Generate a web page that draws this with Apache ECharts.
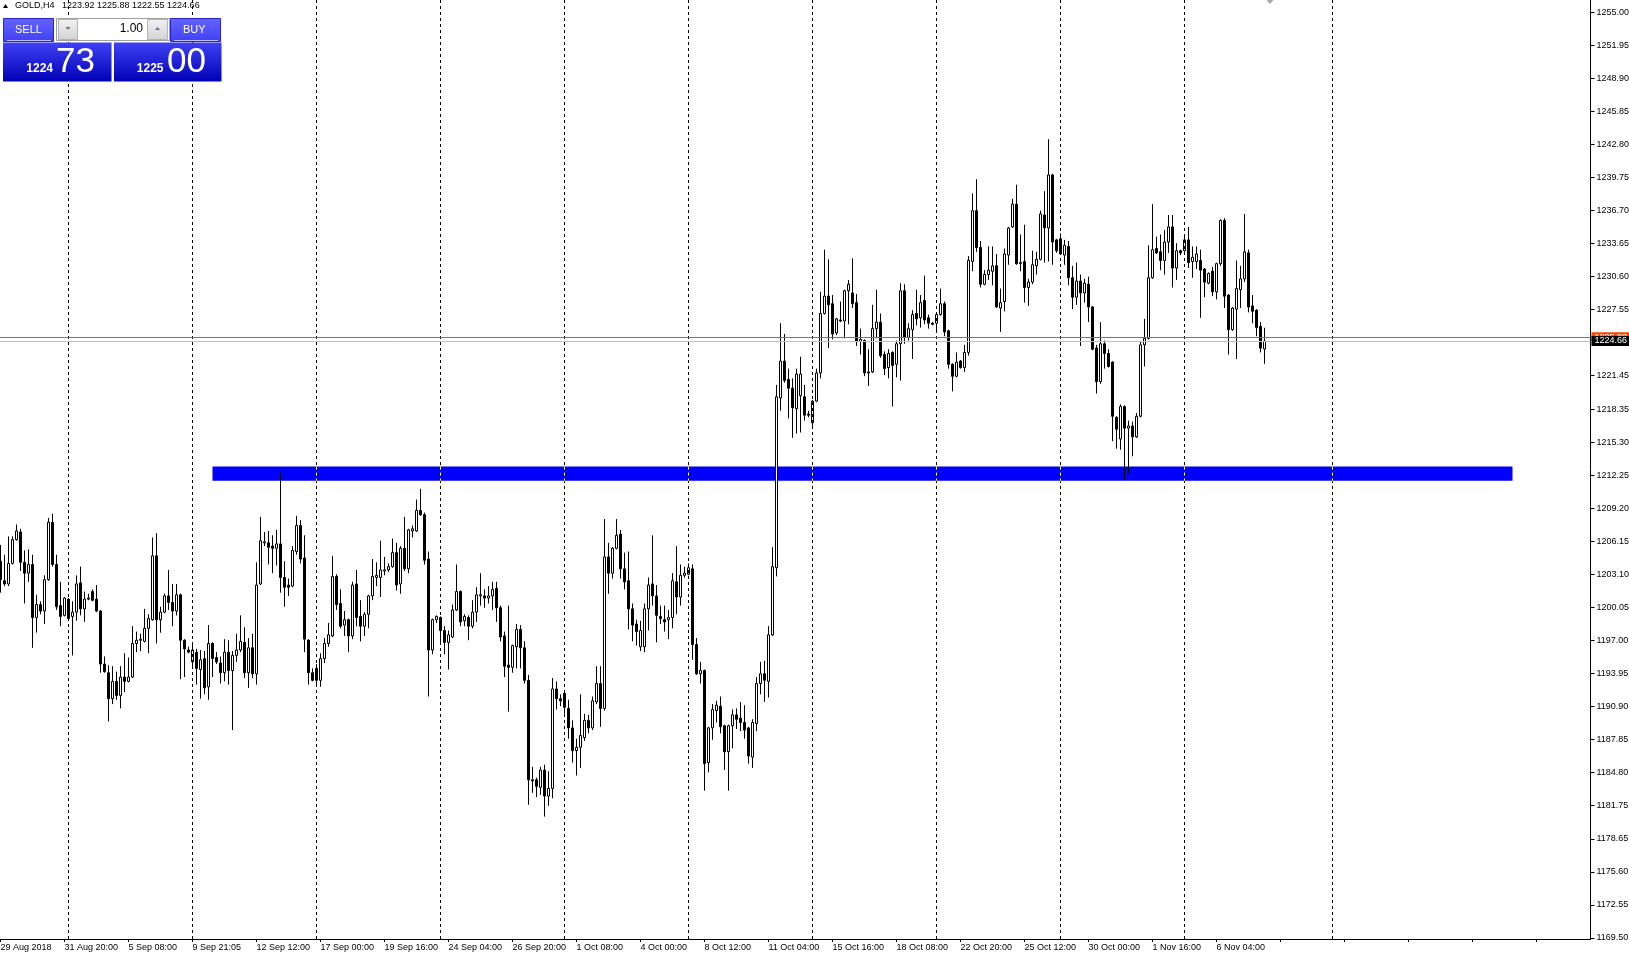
<!doctype html>
<html><head><meta charset="utf-8">
<style>
  html,body{margin:0;padding:0;background:#ffffff;overflow:hidden}
  #chart{width:1629px;height:958px}
</style>
<script src="https://cdn.jsdelivr.net/npm/echarts@6/dist/echarts.min.js"></script>
</head><body><div id="chart"></div>
<script>
// GOLD H4 bars, each [open, close, low, high]
const symbol = 'GOLD,H4';
const candles = [
  [1204.3,1202.6,1201.4,1205.8],[1202.5,1202.2,1202.0,1204.9],[1202.2,1204.1,1202.0,1206.6],[1204.1,1206.3,1204.0,1206.6],[1206.3,1207.1,1206.2,1207.7],
  [1207.0,1204.2,1203.4,1207.3],[1204.2,1203.2,1200.4,1205.3],[1203.2,1204.0,1202.4,1205.4],[1204.0,1199.1,1196.3,1204.9],[1199.1,1200.3,1197.7,1201.2],
  [1200.3,1199.7,1199.4,1200.6],[1199.7,1202.6,1198.5,1203.0],[1202.6,1207.9,1202.5,1208.3],[1207.9,1204.0,1203.8,1208.7],[1204.0,1200.1,1199.8,1204.9],
  [1200.2,1199.2,1198.3,1202.4],[1199.3,1200.9,1199.2,1201.0],[1200.8,1199.0,1198.9,1200.9],[1199.2,1199.6,1195.6,1200.6],[1199.6,1202.2,1198.8,1203.0],
  [1202.3,1199.9,1199.3,1203.8],[1199.9,1200.8,1198.7,1201.5],[1200.8,1200.9,1200.7,1201.3],[1201.5,1200.7,1200.6,1201.7],[1200.8,1199.7,1199.6,1202.1],
  [1199.7,1194.8,1194.0,1199.8],[1194.8,1194.1,1194.0,1195.5],[1194.0,1191.6,1189.5,1194.7],[1191.6,1193.2,1191.1,1194.6],[1193.2,1191.9,1191.5,1194.1],
  [1191.9,1193.6,1190.7,1194.6],[1193.6,1193.2,1192.2,1195.8],[1193.2,1193.6,1193.1,1195.4],[1193.6,1196.7,1193.5,1198.3],[1196.7,1197.0,1195.9,1197.8],
  [1197.0,1197.1,1196.0,1197.6],[1196.9,1198.1,1196.8,1199.9],[1198.1,1199.0,1195.8,1199.4],[1198.9,1204.8,1198.8,1206.5],[1204.8,1198.9,1196.7,1206.9],
  [1198.9,1199.6,1197.7,1200.1],[1199.6,1201.1,1199.5,1201.3],[1201.1,1200.5,1199.8,1203.5],[1200.5,1199.7,1198.3,1202.2],[1199.7,1201.2,1199.3,1202.2],
  [1201.2,1197.0,1193.4,1201.3],[1197.0,1196.2,1193.6,1197.1],[1196.1,1195.9,1195.8,1196.4],[1195.0,1196.1,1194.5,1196.6],[1195.9,1194.4,1192.9,1196.2],
  [1194.3,1195.2,1191.6,1196.1],[1195.3,1192.6,1192.0,1196.0],[1192.7,1196.7,1191.5,1198.4],[1196.7,1195.3,1193.6,1196.8],[1195.4,1195.0,1194.8,1195.9],
  [1194.9,1194.0,1193.0,1195.5],[1194.0,1195.9,1193.2,1197.1],[1195.9,1194.2,1192.9,1197.0],[1194.2,1195.6,1188.7,1196.0],[1195.6,1196.1,1195.0,1197.6],
  [1196.1,1196.9,1195.9,1199.3],[1196.8,1194.0,1193.5,1198.2],[1194.0,1196.3,1192.6,1197.2],[1196.3,1193.9,1193.5,1197.6],[1193.9,1202.1,1192.9,1204.2],
  [1202.2,1206.2,1202.1,1208.4],[1206.0,1206.1,1205.7,1207.0],[1206.0,1205.6,1204.0,1207.1],[1205.7,1205.5,1203.2,1206.7],[1205.5,1205.9,1203.9,1207.2],
  [1205.9,1202.8,1201.4,1212.5],[1202.8,1201.9,1200.1,1204.3],[1202.1,1201.9,1201.1,1202.7],[1202.0,1205.3,1201.9,1205.7],[1205.2,1207.6,1204.9,1208.5],
  [1207.6,1204.5,1204.1,1208.1],[1204.6,1197.1,1195.9,1206.7],[1197.0,1194.0,1192.9,1197.1],[1194.0,1193.3,1193.2,1194.4],[1194.4,1193.3,1192.9,1194.8],
  [1193.3,1195.3,1192.7,1195.8],[1195.3,1196.7,1194.9,1197.2],[1196.7,1197.5,1196.4,1198.6],[1197.4,1202.9,1197.3,1204.8],[1202.9,1200.3,1199.8,1203.1],
  [1200.4,1198.3,1198.1,1201.7],[1198.4,1198.9,1197.4,1199.7],[1198.9,1197.4,1195.9,1199.0],[1197.4,1202.1,1197.1,1202.4],[1202.2,1199.1,1198.3,1203.5],
  [1199.2,1198.3,1196.9,1200.7],[1198.3,1199.4,1197.4,1199.6],[1199.4,1201.1,1198.1,1201.2],[1201.1,1202.9,1200.7,1204.5],[1202.8,1203.0,1202.0,1204.2],
  [1202.8,1203.5,1201.0,1206.2],[1203.4,1203.5,1203.0,1204.7],[1203.5,1203.8,1203.3,1204.1],[1203.8,1205.1,1203.7,1206.4],[1205.1,1202.1,1201.6,1206.0],
  [1202.2,1205.5,1201.3,1205.7],[1205.5,1203.6,1203.4,1208.4],[1203.6,1207.2,1203.2,1207.3],[1207.1,1207.3,1206.5,1207.6],[1207.1,1209.0,1207.0,1210.0],
  [1209.0,1208.6,1208.5,1211.0],[1208.6,1204.4,1204.0,1208.8],[1204.5,1196.1,1191.8,1205.2],[1196.1,1198.9,1195.7,1199.0],[1198.9,1199.2,1198.6,1199.3],
  [1199.1,1197.9,1196.8,1199.2],[1197.9,1196.8,1195.7,1198.3],[1196.8,1197.5,1194.3,1197.9],[1197.3,1199.8,1197.2,1200.3],[1199.8,1201.5,1199.7,1204.0],
  [1201.5,1198.7,1198.3,1201.6],[1198.8,1199.2,1198.3,1199.4],[1199.1,1198.3,1197.0,1199.3],[1198.3,1199.6,1198.1,1200.7],[1199.6,1201.2,1198.7,1201.9],
  [1201.1,1201.2,1200.2,1203.2],[1201.1,1200.9,1200.0,1201.7],[1200.9,1201.1,1200.4,1202.0],[1201.1,1201.7,1199.8,1202.4],[1201.8,1200.0,1198.7,1202.4],
  [1200.0,1197.3,1196.9,1200.2],[1197.4,1194.6,1193.6,1197.8],[1194.7,1194.5,1190.4,1200.2],[1194.5,1196.5,1194.0,1196.6],[1196.4,1198.0,1194.4,1198.5],
  [1198.0,1196.3,1194.4,1198.4],[1196.3,1193.3,1193.0,1196.9],[1193.3,1184.1,1181.8,1193.8],[1184.1,1184.0,1182.9,1185.3],[1184.1,1183.5,1182.5,1184.3],
  [1183.4,1185.0,1182.7,1185.3],[1185.0,1182.6,1180.7,1185.5],[1182.6,1183.3,1181.7,1184.9],[1183.3,1192.5,1182.4,1193.5],[1192.5,1191.6,1190.6,1193.2],
  [1191.6,1191.4,1190.9,1192.0],[1192.1,1190.8,1190.2,1192.3],[1190.7,1188.9,1187.9,1191.5],[1188.9,1186.8,1185.7,1189.6],[1186.8,1187.1,1184.5,1187.9],
  [1187.1,1188.2,1185.2,1192.0],[1188.0,1189.6,1187.7,1190.2],[1189.6,1188.9,1188.4,1190.1],[1188.9,1191.4,1188.7,1191.8],[1191.3,1193.0,1191.1,1194.6],
  [1193.0,1190.7,1189.0,1194.6],[1190.7,1204.7,1190.5,1208.2],[1204.7,1203.2,1201.3,1206.0],[1203.2,1205.5,1202.7,1205.6],[1205.5,1206.7,1205.4,1208.2],
  [1206.8,1203.6,1202.7,1207.2],[1203.6,1202.4,1201.7,1205.1],[1202.5,1199.9,1198.0,1205.2],[1199.9,1198.4,1196.9,1200.4],[1198.5,1197.8,1196.5,1198.9],
  [1196.4,1197.9,1196.0,1198.8],[1196.4,1199.9,1195.9,1200.4],[1199.9,1202.1,1197.9,1202.8],[1202.2,1201.1,1200.2,1206.7],[1201.1,1199.3,1196.8,1202.1],
  [1199.2,1199.0,1198.5,1200.2],[1198.9,1198.7,1197.8,1200.2],[1198.9,1199.1,1197.1,1199.8],[1199.1,1202.5,1198.1,1203.2],[1202.4,1201.0,1199.4,1205.7],
  [1201.0,1203.0,1200.2,1204.0],[1203.0,1203.2,1202.8,1203.8],[1203.1,1203.7,1203.0,1204.1],[1203.6,1196.6,1195.2,1204.0],[1196.6,1193.9,1193.8,1197.2],
  [1193.9,1194.2,1193.0,1195.0],[1194.2,1185.6,1183.1,1194.3],[1185.7,1188.9,1184.8,1189.0],[1188.9,1190.6,1187.8,1191.1],[1190.5,1191.0,1189.4,1191.4],
  [1190.9,1189.0,1188.4,1191.8],[1189.1,1186.7,1185.0,1189.2],[1186.7,1189.1,1183.1,1189.2],[1189.1,1190.1,1187.0,1190.6],[1190.1,1189.7,1188.8,1190.7],
  [1189.8,1189.4,1188.6,1191.3],[1189.4,1188.7,1187.9,1191.0],[1188.9,1186.3,1185.6,1189.0],[1186.2,1189.4,1185.2,1189.7],[1189.3,1193.0,1188.6,1193.6],
  [1193.0,1193.9,1192.0,1195.0],[1193.9,1193.3,1191.3,1195.1],[1193.2,1197.5,1191.7,1198.3],[1197.5,1203.8,1197.4,1205.6],[1203.7,1219.5,1202.9,1220.6],
  [1219.4,1222.8,1218.2,1226.3],[1222.8,1221.0,1220.8,1225.3],[1221.1,1220.3,1217.5,1222.1],[1220.3,1218.5,1215.7,1221.2],[1218.4,1221.6,1216.1,1222.1],
  [1219.6,1221.6,1216.2,1223.2],[1219.5,1217.8,1217.3,1220.6],[1217.9,1217.8,1217.6,1218.2],[1217.1,1219.1,1216.8,1219.2],[1219.1,1221.7,1219.0,1222.1],
  [1221.7,1227.2,1221.2,1229.2],[1227.2,1228.8,1227.1,1233.1],[1228.8,1228.0,1224.0,1232.2],[1228.1,1225.3,1224.8,1228.9],[1225.4,1226.7,1225.2,1226.8],
  [1226.6,1226.5,1226.4,1228.3],[1226.5,1229.3,1224.9,1229.4],[1229.3,1229.9,1226.2,1230.3],[1229.1,1228.1,1227.7,1232.3],[1228.2,1224.6,1224.2,1229.0],
  [1224.6,1224.8,1223.4,1225.8],[1224.7,1221.7,1221.4,1224.8],[1221.8,1221.7,1220.5,1223.9],[1221.8,1225.8,1221.7,1228.0],[1225.8,1226.4,1224.9,1229.4],
  [1226.4,1223.3,1223.1,1227.2],[1223.4,1222.1,1221.5,1223.7],[1222.2,1223.5,1221.2,1223.9],[1223.6,1222.4,1218.6,1223.7],[1222.5,1224.4,1221.3,1224.7],
  [1224.4,1229.3,1221.0,1230.0],[1229.3,1225.0,1224.4,1229.9],[1225.0,1225.8,1224.7,1226.3],[1225.7,1227.1,1223.0,1227.5],[1227.2,1226.7,1226.1,1229.4],
  [1226.8,1228.2,1225.9,1228.9],[1228.4,1226.6,1226.2,1230.7],[1226.8,1226.3,1225.8,1227.1],[1226.3,1226.2,1226.1,1226.4],[1226.3,1227.1,1225.5,1227.2],
  [1227.1,1228.1,1227.0,1229.5],[1228.1,1225.5,1225.1,1228.3],[1225.6,1222.5,1222.1,1225.7],[1222.5,1221.4,1220.0,1222.6],[1221.4,1222.7,1221.3,1223.6],
  [1222.8,1222.2,1222.1,1222.9],[1222.2,1223.6,1221.8,1224.3],[1223.6,1232.1,1223.3,1232.5],[1232.0,1236.7,1231.1,1238.3],[1236.7,1233.3,1232.9,1239.6],
  [1233.3,1229.9,1229.6,1233.9],[1229.9,1230.8,1229.8,1231.2],[1230.8,1231.2,1230.3,1233.4],[1231.1,1231.6,1229.8,1233.4],[1231.6,1227.8,1227.7,1232.7],
  [1227.7,1228.2,1225.5,1229.5],[1228.3,1232.7,1227.4,1233.2],[1232.6,1235.1,1231.7,1235.2],[1235.2,1237.3,1235.1,1237.8],[1237.3,1231.8,1231.7,1239.1],
  [1231.8,1231.9,1231.1,1234.5],[1232.0,1229.6,1228.2,1235.4],[1229.6,1230.1,1227.9,1230.4],[1230.1,1231.7,1229.9,1233.0],[1231.6,1232.2,1230.8,1232.9],
  [1232.2,1236.4,1232.1,1236.7],[1236.3,1235.1,1231.9,1238.5],[1235.1,1240.0,1232.0,1243.3],[1240.0,1233.8,1231.7,1240.1],[1234.0,1233.0,1232.8,1234.1],
  [1234.1,1232.7,1232.6,1234.6],[1232.6,1233.5,1231.7,1234.0],[1233.4,1230.5,1229.8,1233.9],[1230.5,1228.7,1227.6,1231.6],[1228.7,1230.2,1228.0,1231.9],
  [1230.2,1229.1,1224.2,1230.8],[1229.1,1230.0,1228.2,1230.4],[1229.9,1227.8,1226.4,1230.6],[1227.8,1223.9,1223.8,1227.9],[1224.0,1220.9,1219.8,1224.3],
  [1220.9,1224.4,1220.7,1226.4],[1224.4,1223.5,1222.1,1224.7],[1223.5,1222.3,1222.2,1223.9],[1222.7,1217.7,1215.4,1222.8],[1217.6,1216.5,1214.7,1217.7],
  [1215.6,1218.6,1214.6,1218.8],[1218.6,1216.6,1211.8,1218.7],[1216.6,1216.8,1212.4,1217.3],[1216.8,1215.8,1214.0,1217.2],[1215.8,1217.7,1215.7,1218.0],
  [1217.7,1224.3,1217.6,1224.6],[1224.3,1224.9,1222.3,1226.7],[1224.9,1230.5,1224.8,1233.5],[1230.5,1233.1,1230.4,1237.3],[1233.2,1232.8,1232.7,1234.3],
  [1232.9,1232.1,1231.2,1234.5],[1232.1,1233.8,1230.8,1234.9],[1233.8,1235.2,1232.8,1236.3],[1235.2,1231.4,1229.6,1236.3],[1231.4,1233.0,1230.3,1233.7],
  [1233.0,1232.8,1232.6,1233.1],[1233.0,1234.0,1232.9,1234.3],[1234.0,1231.9,1231.4,1235.2],[1232.0,1232.4,1230.5,1233.4],[1232.0,1232.7,1231.3,1233.4],
  [1232.1,1231.2,1226.8,1233.1],[1231.3,1230.1,1228.7,1231.4],[1230.0,1230.9,1229.9,1231.0],[1231.1,1229.2,1228.8,1231.5],[1229.2,1231.8,1228.5,1231.9],
  [1231.8,1235.8,1231.6,1235.9],[1235.8,1228.8,1227.7,1236.0],[1228.9,1225.7,1223.4,1229.0],[1225.7,1227.7,1225.6,1227.8],[1227.6,1229.5,1223.0,1232.1],
  [1229.4,1230.4,1227.7,1231.6],[1230.4,1232.9,1230.1,1236.4],[1232.8,1227.8,1227.3,1233.1],[1227.9,1227.4,1226.3,1228.9],[1227.5,1225.9,1225.1,1227.6],
  [1226.0,1224.0,1223.6,1226.4],[1223.92,1224.66,1222.55,1225.88]
];

// time scale labels, one every 16 bars
const timeLabels = ['29 Aug 2018','31 Aug 20:00','5 Sep 08:00','9 Sep 21:05','12 Sep 12:00','17 Sep 00:00','19 Sep 16:00',
  '24 Sep 04:00','26 Sep 20:00','1 Oct 08:00','4 Oct 00:00','8 Oct 12:00','11 Oct 04:00','15 Oct 16:00','18 Oct 08:00',
  '22 Oct 20:00','25 Oct 12:00','30 Oct 00:00','1 Nov 16:00','6 Nov 04:00'];
// price scale labels (1224.50 is hidden under the bid tag)
const priceTicks = [1169.50,1172.55,1175.60,1178.65,1181.75,1184.80,1187.85,1190.90,1193.95,1197.00,1200.05,1203.10,1206.15,
  1209.20,1212.25,1215.30,1218.35,1221.45,1227.55,1230.60,1233.65,1236.70,1239.75,1242.80,1245.85,1248.90,1251.95,1255.00];
// bar indices of the weekly period separators (last one is a vertical line object)
const separators = [17,48,79,110,141,172,203,234,265,296,333];
// support zone rectangle: bar from/to, price top/bottom
const zoneBars = [53, 378];
const zonePrices = [1213.05, 1211.75];
const bidPrice = 1224.66, askPrice = 1225.00;
const sellQuote = ['1224', '73'], buyQuote = ['1225', '00'], lotText = '1.00';
const slotCount = 398;            // bars that fit in the window incl. the right shift
const priceMin = 1169.39, priceMax = 1256.17;

const FONT = "'Liberation Sans', Arial, sans-serif";
const slots = [];
for (let i = 0; i < slotCount; i++) slots.push(String(i));
const last = candles[candles.length - 1];
const headerValues = [last[0], last[3], last[2], last[1]].map(v => v.toFixed(2)).join(' ');

function grad(top, bottom){ return {type:'linear',x:0,y:0,x2:0,y2:1,colorStops:[{offset:0,color:top},{offset:1,color:bottom}]}; }

const sepLines = separators.map(i => ({xAxis: i, lineStyle:{color:'#000', type:[3,3], width:1}}));
const zoneSeps = [];
separators.filter(i => i > zoneBars[0] && i < zoneBars[1]).forEach(i => {
  zoneSeps.push([{xAxis:i, yAxis:zonePrices[0], lineStyle:{color:'#0000ff', type:'solid', width:1}}, {xAxis:i, yAxis:zonePrices[1]}]);
  zoneSeps.push([{xAxis:i, yAxis:zonePrices[0], lineStyle:{color:'#ffff00', type:[3,3], width:1}}, {xAxis:i, yAxis:zonePrices[1]}]);
});
const tagLabel = (txt, bg) => ({show:true, position:'end', distance:1, formatter:txt, backgroundColor:bg, color:'#fff',
  fontSize:9, fontFamily:FONT, lineHeight:9, padding:[1,3,0,3]});
const priceLines = [
  {yAxis: askPrice, lineStyle:{color:'#ff4500', type:'solid', width:1}, label: tagLabel(askPrice.toFixed(2), '#ff4500')},
  {yAxis: bidPrice, lineStyle:{color:'#c0c0c0', type:'solid', width:1}, label: tagLabel(bidPrice.toFixed(2), '#000')}
];

const Z = 100;
const panel = [
  // header line
  {type:'polygon', z:Z, shape:{points:[[3,8],[8,8],[5.5,4]]}, style:{fill:'#000'}},
  {type:'text', z:Z, style:{x:15, y:6, text:symbol, font:'9px '+FONT, fill:'#000', verticalAlign:'middle'}},
  {type:'text', z:Z, style:{x:62, y:6, text:headerValues, font:'9px '+FONT, fill:'#000', verticalAlign:'middle'}},
  // sell / buy buttons
  {type:'rect', z:Z, shape:{x:3.5,y:18.5,width:50,height:23}, style:{fill:grad('#6464ff','#4040f6'), stroke:'#2424cc', lineWidth:1}},
  {type:'line', z:Z, shape:{x1:7,y1:40.5,x2:51,y2:40.5}, style:{stroke:'#c0c0ff', lineWidth:1}},
  {type:'text', z:Z, style:{x:15, y:29.5, text:'SELL', font:'11px '+FONT, fill:'#fff', verticalAlign:'middle'}},
  {type:'rect', z:Z, shape:{x:170.5,y:18.5,width:50,height:23}, style:{fill:grad('#6464ff','#4040f6'), stroke:'#2424cc', lineWidth:1}},
  {type:'line', z:Z, shape:{x1:174,y1:40.5,x2:218,y2:40.5}, style:{stroke:'#c0c0ff', lineWidth:1}},
  {type:'text', z:Z, style:{x:183, y:29.5, text:'BUY', font:'11px '+FONT, fill:'#fff', verticalAlign:'middle'}},
  // lot box
  {type:'rect', z:Z, shape:{x:56.5,y:18.5,width:113,height:22}, style:{fill:'#fff', stroke:'#a0a0a0', lineWidth:1}},
  {type:'rect', z:Z, shape:{x:58.5,y:19.5,width:19,height:20}, style:{fill:grad('#f2f2f2','#d2d2d2'), stroke:'#b4b4b4', lineWidth:1}},
  {type:'polygon', z:Z, shape:{points:[[65.5,27],[70.5,27],[68,30]]}, style:{fill:'#6070a0'}},
  {type:'rect', z:Z, shape:{x:147.5,y:19.5,width:20,height:20}, style:{fill:grad('#f2f2f2','#d2d2d2'), stroke:'#b4b4b4', lineWidth:1}},
  {type:'polygon', z:Z, shape:{points:[[155,30],[160,30],[157.5,27]]}, style:{fill:'#6070a0'}},
  {type:'text', z:Z, style:{x:143, y:28.5, text:lotText, font:'12px '+FONT, fill:'#000', align:'right', verticalAlign:'middle'}},
  // quote boxes
  {type:'rect', z:Z, shape:{x:3,y:42.5,width:108.5,height:39}, style:{fill:grad('#4040f4','#0000b4')}},
  {type:'rect', z:Z, shape:{x:114,y:42.5,width:107.5,height:39}, style:{fill:grad('#4040f4','#0000b4')}},
  {type:'text', z:Z, style:{x:53, y:69, text:sellQuote[0], font:'bold 12px '+FONT, fill:'#fff', align:'right', verticalAlign:'middle'}},
  {type:'text', z:Z, style:{x:56, y:62.5, text:sellQuote[1], font:'35px '+FONT, fill:'#fff', verticalAlign:'middle'}},
  {type:'text', z:Z, style:{x:163.5, y:69, text:buyQuote[0], font:'bold 12px '+FONT, fill:'#fff', align:'right', verticalAlign:'middle'}},
  {type:'text', z:Z, style:{x:167, y:62.5, text:buyQuote[1], font:'35px '+FONT, fill:'#fff', verticalAlign:'middle'}},
  // chart shift marker
  {type:'polygon', z:Z, shape:{points:[[1266.5,0],[1273.5,0],[1270,4]]}, style:{fill:'#a8a8a8'}}
];

const chart = echarts.init(document.getElementById('chart'));
chart.setOption({
  animation: false,
  backgroundColor: '#ffffff',
  grid: {left: -1.5, top: 0, width: 1592, height: 939, containLabel: false, outerBoundsMode: 'none'},
  xAxis: {
    type: 'category', data: slots, boundaryGap: true,
    axisLine: {lineStyle: {color: '#000', width: 1}},
    axisTick: {show: true, interval: 15, alignWithLabel: true, length: 3, lineStyle: {color: '#000'}},
    axisLabel: {interval: 15, align: 'left', margin: 4, color: '#000', fontSize: 9, fontFamily: FONT,
      hideOverlap: false, formatter: (v, i) => timeLabels[i / 16] || ''},
    splitLine: {show: false}
  },
  yAxis: {
    type: 'value', position: 'right', min: priceMin, max: priceMax, scale: true,
    axisLine: {show: true, lineStyle: {color: '#000', width: 1}},
    axisTick: {show: true, length: 4, customValues: priceTicks, lineStyle: {color: '#000'}},
    axisLabel: {customValues: priceTicks, margin: 6, color: '#000', fontSize: 9, fontFamily: FONT,
      hideOverlap: false, formatter: v => v.toFixed(2)},
    splitLine: {show: false}
  },
  series: [{
    type: 'candlestick',
    data: candles,
    barWidth: 2,
    clip: true,
    itemStyle: {color: '#ffffff', color0: '#000000', borderColor: '#000000', borderColor0: '#000000',
      borderColorDoji: '#000000', borderWidth: 1},
    markArea: {silent: true, itemStyle: {color: '#0000ff', opacity: 1},
      data: [[{xAxis: zoneBars[0], yAxis: zonePrices[0]}, {xAxis: zoneBars[1], yAxis: zonePrices[1]}]]},
    markLine: {silent: true, symbol: ['none', 'none'], label: {show: false}, animation: false,
      data: sepLines.concat(zoneSeps, priceLines)}
  }],
  graphic: panel
});
</script></body></html>
